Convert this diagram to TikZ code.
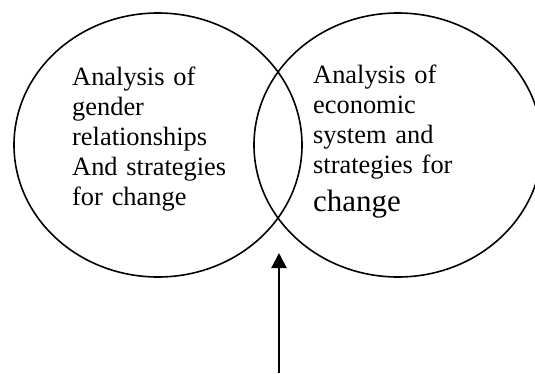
\documentclass[tikz,border=0pt]{standalone}
\usepackage{fontspec}
\setmainfont{Liberation Serif}
\usetikzlibrary{shapes.geometric,arrows.meta}
\tikzstyle{canvas} = [x = 1pt, y = -1pt]
\tikzstyle{ringStyle} = [draw, ellipse, line width = 1.6pt, minimum width = 288pt, minimum height = 264pt, inner sep = 0]
\tikzstyle{ringText} = [anchor = base west, inner sep = 0, text width = 180pt, align = left, font = \fontsize{26.4}{30}\selectfont]
\tikzstyle{pointer} = [line width = 2.2pt, -{Triangle[width = 15pt, length = 15pt]}]
\newcommand{\bigWord}[1]{{\fontsize{31}{36}\selectfont #1}}

\begin{document}
\begin{tikzpicture}[canvas]
  \useasboundingbox (0,0) rectangle (535,373);
  % the two overlapping rings
  \node [ringStyle] (gender) at (158,145) {};
  \node [ringStyle] (economy) at (398,145) {};
  \node [ringText] (genderText) at (72,85) {Analysis of\\gender\\relationships\\And strategies\\for change};
  \node [ringText] (economyText) at (313,83) {Analysis of\\economic\\system and\\strategies for\\[8pt]\bigWord{change}};
  % arrow up into the overlap
  \coordinate (overlap) at (279,253);
  \coordinate (source) at (279,373);
  \draw [pointer] (source) -- (overlap);
\end{tikzpicture}
\end{document}
